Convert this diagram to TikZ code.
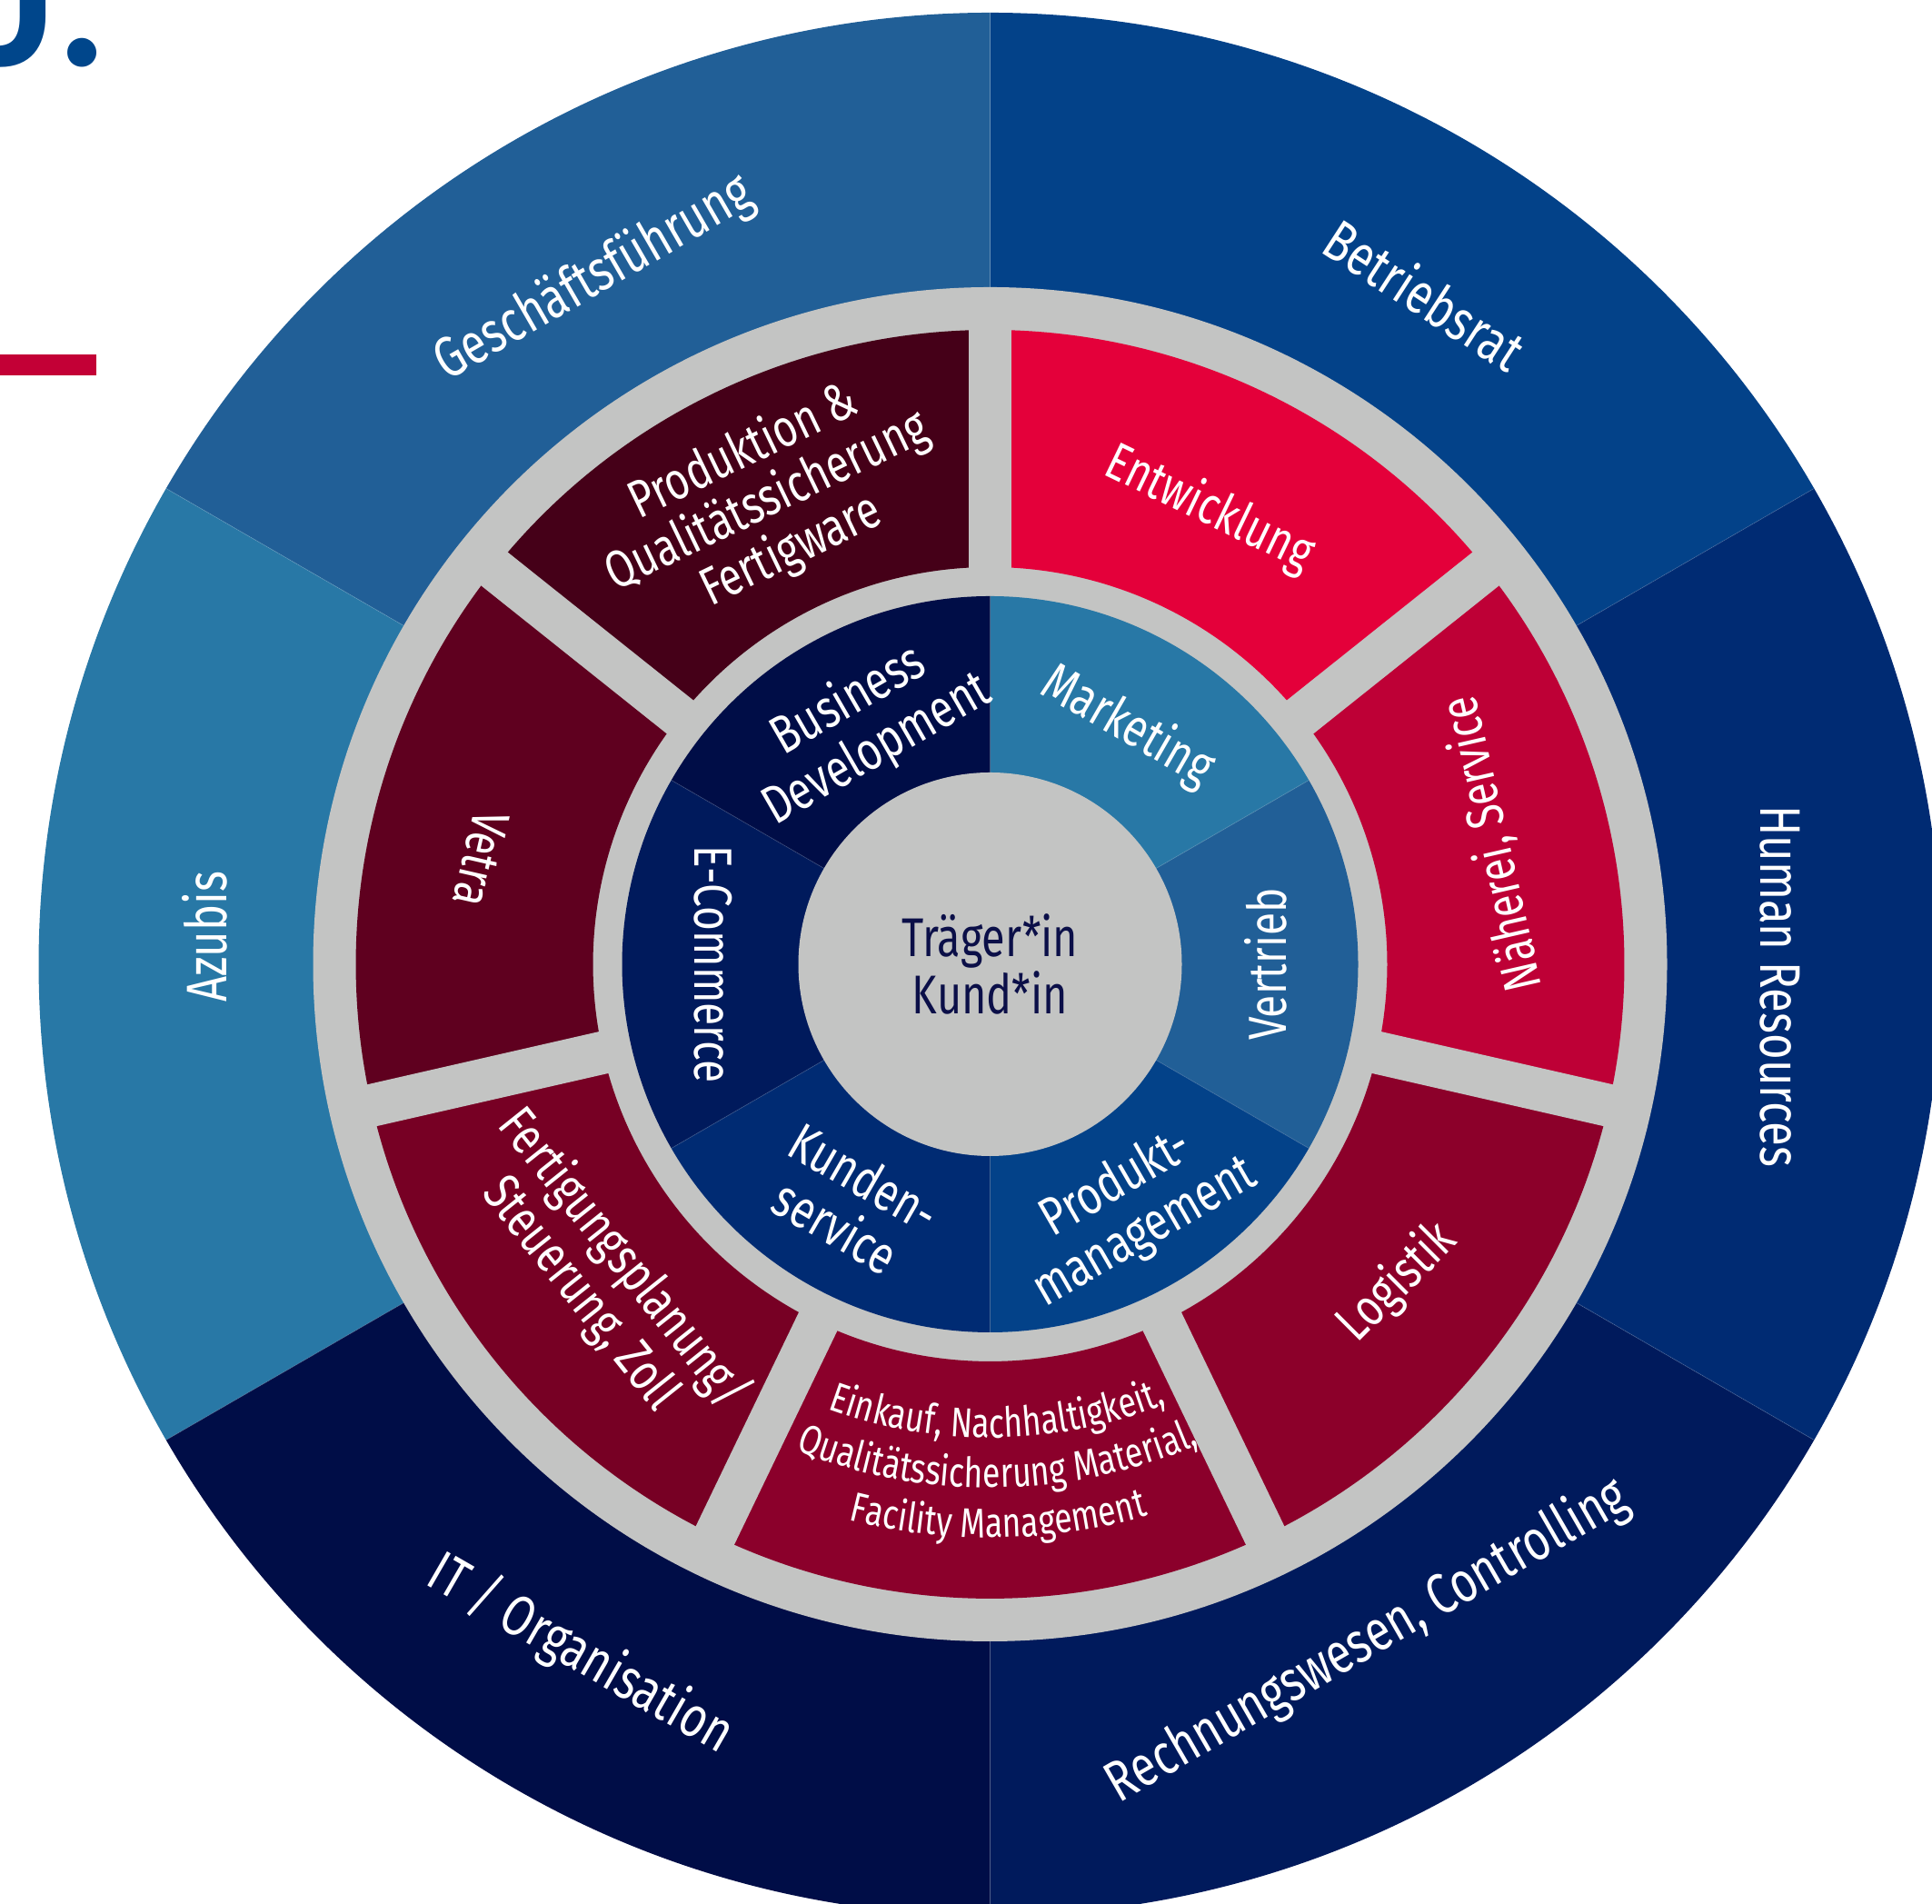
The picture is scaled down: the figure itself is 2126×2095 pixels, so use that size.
\documentclass[tikz,border=0pt]{standalone}
\usepackage{fontspec}
\setmainfont{Fira Sans}[FakeStretch=0.78]
\newfontfamily\headfont{Lato}
\usetikzlibrary{decorations.text}

% palette
\definecolor{ringgray}{HTML}{C3C4C3}
\definecolor{cGF}{HTML}{215F97}
\definecolor{cBR}{HTML}{034289}
\definecolor{cHR}{HTML}{002B73}
\definecolor{cRW}{HTML}{001A5C}
\definecolor{cIT}{HTML}{000D47}
\definecolor{cAZ}{HTML}{2878A6}
\definecolor{mPQ}{HTML}{450018}
\definecolor{mEW}{HTML}{E4003A}
\definecolor{mNS}{HTML}{BE0036}
\definecolor{mLG}{HTML}{8C002A}
\definecolor{mEK}{HTML}{8B002B}
\definecolor{mFS}{HTML}{770024}
\definecolor{mVT}{HTML}{5F001F}
\definecolor{centertext}{HTML}{0B0F48}
\definecolor{headblue}{HTML}{00468B}
\definecolor{accentred}{HTML}{C30036}

% type sizes
\newcommand\olfont{\fontsize{17.9}{18.6}\selectfont}
\newcommand\mlfont{\fontsize{16.5}{17.2}\selectfont}
\newcommand\ilfont{\fontsize{16.8}{17.8}\selectfont}
\newcommand\clfont{\fontsize{17.1}{16.8}\selectfont}
\newcommand\ekfont{\fontsize{13.0}{13.4}\selectfont}

\begin{document}
\begin{tikzpicture}[x=0.1mm,y=0.1mm,
  outerlbl/.style={text=white, font=\olfont, align=center, inner sep=0pt},
  midlbl/.style={text=white, font=\mlfont, align=center, inner sep=0pt},
  innlbl/.style={text=white, font=\ilfont, align=center, inner sep=0pt},
  ctrlbl/.style={text=centertext, font=\clfont, align=center, inner sep=0pt},
  gapbar/.style={draw=ringgray, line width=4.7mm},
  seam/.style={draw=white, opacity=0.12, line width=0.1mm}]
\useasboundingbox (0,0) rectangle (2126,2095);
\clip (0,0) rectangle (2126,2095);

% heading remnants in the corner
\node[anchor=base east, inner sep=0pt, text=headblue,
      font=\headfont\bfseries\fontsize{60}{60}\selectfont] (head) at (116,2022) {J.};
\fill[accentred] (0,1682) rectangle (106,1705);

\begin{scope}[shift={(1089.5,1034)}]
  % outer ring: six sectors
  \foreach \a/\c in {30/cBR,90/cGF,150/cAZ,210/cIT,270/cRW,330/cHR}
    \fill[\c] (0,0) -- (\a:1047) arc[start angle=\a, end angle=\a+60, radius=1047] -- cycle;
  \foreach \a in {30,90,150,210,270,330}
    \draw[seam] (\a:745) -- (\a:1047);

  % grey band
  \fill[ringgray] (0,0) circle[radius=745];

  % middle ring: seven segments
  \foreach \k/\c in {0/mEW,1/mNS,2/mLG,3/mEK,4/mFS,5/mVT,6/mPQ}{
    \pgfmathsetmacro\aa{90-(\k+1)*360/7}
    \pgfmathsetmacro\ab{90-\k*360/7}
    \fill[\c] (\aa:698) arc[start angle=\aa, end angle=\ab, radius=698]
      -- (\ab:437) arc[start angle=\ab, end angle=\aa, radius=437] -- cycle;
  }
  \foreach \k in {0,...,6}{
    \pgfmathsetmacro\ag{90-\k*360/7}
    \draw[gapbar] (\ag:420) -- (\ag:720);
  }

  % inner ring: six sectors
  \foreach \a/\c in {-30/cGF,30/cAZ,90/cIT,150/cRW,210/cHR,270/cBR}
    \fill[\c] (0,0) -- (\a:405) arc[start angle=\a, end angle=\a+60, radius=405] -- cycle;
  \foreach \a in {30,90,150,210,270,330}
    \draw[seam] (\a:211) -- (\a:405);

  % hub
  \fill[ringgray] (0,0) circle[radius=211];

  % outer labels
  \node[outerlbl, rotate=30]  (gf) at (120:871)    {Geschäftsführung};
  \node[outerlbl, rotate=-33] (br) at (57:879)     {Betriebsrat};
  \node[outerlbl, rotate=-90] (hr) at (-1.6:870)   {Human Resources};
  \node[outerlbl, rotate=30]  (rw) at (-60.85:853) {Rechnungswesen, Controlling};
  \node[outerlbl, rotate=-30] (it) at (-120.7:883) {IT / Organisation};
  \node[outerlbl, rotate=90]  (az) at (178:865)    {Azubis};

  % middle labels
  \node[midlbl, rotate=25.7]   (pq) at (115.7:565) {Produktion \&\\Qualitätssicherung\\Fertigware};
  \node[midlbl, rotate=-25.7]  (ew) at (64.3:556)  {Entwicklung};
  \node[midlbl, rotate=102.9]  (ns) at (13.5:569)  {Näherei, Service};
  \node[midlbl, rotate=45]     (lg) at (-38:569)   {Logistik};
  \node[midlbl, rotate=-51.4]  (fs) at (-141.2:548) {Fertigungsplanung/\\Steuerung, Zoll};
  \node[midlbl, rotate=-102.9] (vt) at (168.3:572) {Vetra};

  % curved lines in the bottom segment
  \path[decorate, decoration={text along path, text align=center,
        text={|\ekfont\color{white}|Einkauf, Nachhaltigkeit,}}]
    (-124.15:521) arc[start angle=-124.15, end angle=-54.15, radius=521];
  \path[decorate, decoration={text along path, text align=center,
        text={|\ekfont\color{white}|Qualitätssicherung Material,}}]
    (-124.15:576) arc[start angle=-124.15, end angle=-54.15, radius=576];
  \path[decorate, decoration={text along path, text align=center,
        text={|\ekfont\color{white}|Facility Management}}]
    (-124.15:631) arc[start angle=-124.15, end angle=-54.15, radius=631];

  % inner labels
  \node[innlbl, rotate=30]  (bd) at (118:298)    {Business\\Development};
  \node[innlbl, rotate=-30] (mk) at (60:302)     {Marketing};
  \node[innlbl, rotate=90]  (vb) at (0:303)      {Vertrieb};
  \node[innlbl, rotate=30]  (pm) at (-60:310)    {Produkt-\\management};
  \node[innlbl, rotate=-30] (ks) at (-120.5:303) {Kunden-\\service};
  \node[innlbl, rotate=-90] (ec) at (180:305)    {E-Commerce};

  % centre
  \node[ctrlbl] (ctr) at (0,0) {Träger*in\\Kund*in};
\end{scope}
\end{tikzpicture}
\end{document}
